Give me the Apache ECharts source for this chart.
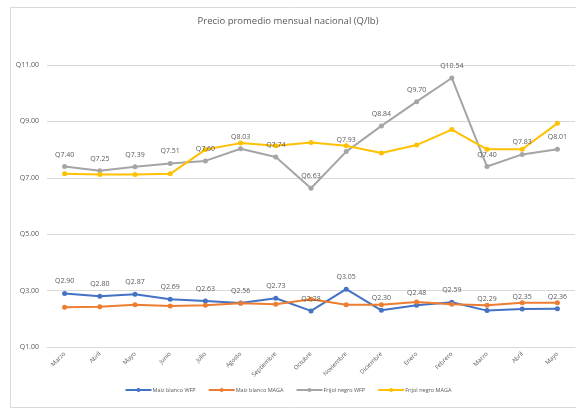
<!DOCTYPE html>
<html><head><meta charset="utf-8">
<script src="https://cdn.jsdelivr.net/npm/echarts@6/dist/echarts.min.js"></script>
<style>html,body{margin:0;padding:0;background:#fff}#c{width:576px;height:409px}</style>
</head><body><div id="c"></div>
<script>
const categories = ["Marzo","Abril","Mayo","Junio","Julio","Agosto","Septiembre","Octubre","Noviembre","Diciembre","Enero","Febrero","Marzo","Abril","Mayo"];
const maizWFP = [2.90,2.80,2.87,2.69,2.63,2.56,2.73,2.28,3.05,2.30,2.48,2.59,2.29,2.35,2.36];
const maizMAGA = [2.41,2.43,2.50,2.45,2.48,2.55,2.52,2.69,2.50,2.50,2.60,2.52,2.48,2.57,2.57];
const frijolWFP = [7.40,7.25,7.39,7.51,7.60,8.03,7.74,6.63,7.93,8.84,9.70,10.54,7.40,7.83,8.01];
const frijolMAGA = [7.14,7.12,7.12,7.14,8.00,8.23,8.14,8.25,8.14,7.88,8.16,8.71,8.01,8.01,8.93];
const seriesNames = ["Maíz blanco WFP","Maíz blanco MAGA","Frijol negro WFP","Frijol negro MAGA"];
const colors = ["#4472C4","#ED7D31","#A5A5A5","#FFC000"];
const yTicks = [1,3,5,7,9,11];

const font = "Open Sans";
const chart = echarts.init(document.getElementById('c'));
function mk(name, data, color, labels){
  return {
    name, type:'line', data, color,
    symbol:'circle', symbolSize:5,
    lineStyle:{width:2, color},
    itemStyle:{color},
    label: labels ? {show:true, position:'top', distance:6, color:'#595959', fontSize:7, fontFamily:font,
      formatter:p=>'Q'+p.value.toFixed(2)} : {show:false},
    z: 2
  };
}
chart.setOption({
  animation:false,
  textStyle:{fontFamily:font},
  graphic:[{type:'rect', left:8, top:5, shape:{width:600,height:400}, style:{fill:'none', stroke:'#d9d9d9', lineWidth:1}, silent:true}],
  title:{text:'Precio promedio mensual nacional (Q/lb)', left:'center', top:11,
    textStyle:{fontSize:9.5, fontWeight:'normal', color:'#595959', fontFamily:font}},
  grid:{left:47, right:1, top:65, bottom:62, containLabel:false},
  legend:{bottom:11, left:'center', itemWidth:26, itemHeight:5, itemGap:12,
    textStyle:{fontSize:5.5, color:'#595959', fontFamily:font, padding:[0,0,0,-4]},
    data:seriesNames},
  xAxis:{type:'category', data:categories, boundaryGap:true,
    axisLine:{show:true, lineStyle:{color:'#d9d9d9'}}, axisTick:{show:false},
    axisLabel:{rotate:45, fontSize:6, color:'#595959', margin:6, interval:0, fontFamily:font}},
  yAxis:{type:'value', min:yTicks[0], max:yTicks[yTicks.length-1], interval:2,
    axisLine:{show:false}, axisTick:{show:false},
    splitLine:{lineStyle:{color:'#d9d9d9'}},
    axisLabel:{fontSize:7, color:'#595959', margin:8, fontFamily:font, formatter:v=>'Q'+v.toFixed(2)}},
  series:[
    mk(seriesNames[0], maizWFP, colors[0], true),
    mk(seriesNames[1], maizMAGA, colors[1], false),
    mk(seriesNames[2], frijolWFP, colors[2], true),
    mk(seriesNames[3], frijolMAGA, colors[3], false)
  ]
});
</script></body></html>
